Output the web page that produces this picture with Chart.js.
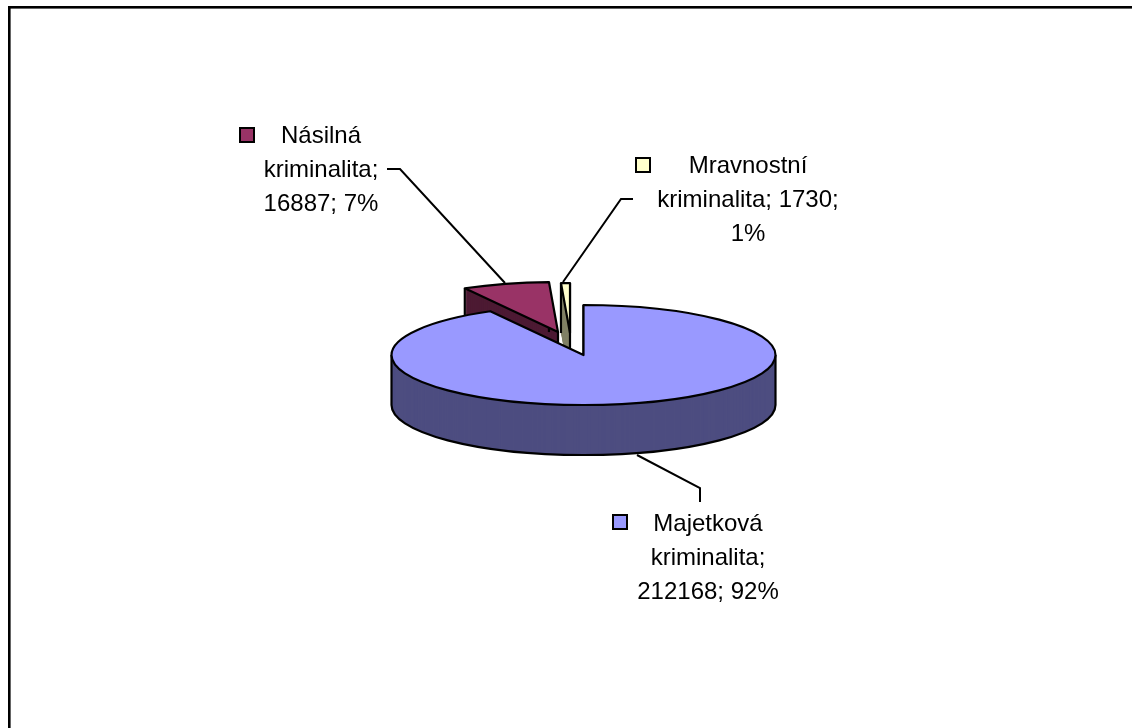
<!DOCTYPE html>
<html>
<head>
<meta charset="utf-8">
<script src="https://cdn.jsdelivr.net/npm/chart.js@4"></script>
<style>
  html, body { margin: 0; background: #fff; }
  canvas { display: block; }
</style>
</head>
<body>
<canvas id="chart" width="1132" height="728"></canvas>
<script>
const categories = ["Majetková kriminalita", "Násilná kriminalita", "Mravnostní kriminalita"];
const values = [212168, 16887, 1730];
const topColors = ["#9999FF", "#993366", "#FFFFCC"];
const wallColors = ["#4D4D80", "#4D1A33", "#808066"];

// 3D look of the old pie: flattening, wall height, how far slices are pulled out
const squash = 50 / 192;
const depth = 50;
const shifts = [[0, 0], [-25.5, -23], [-13.5, -22]];
const drawOrder = [1, 2, 0];

// where the labels sit: centre x, first baseline, wrap width, legend key, leader line
const labelBoxes = [
  { x: 708, y: 531, wrap: 150, key: [613, 515], leader: [[637, 455], [700, 488], [700, 502]] },
  { x: 321, y: 143, wrap: 122, key: [240, 128], leader: [[387, 169], [400, 169], [505, 283]] },
  { x: 748, y: 173, wrap: 182, key: [636, 158], leader: [[633, 199], [621, 199], [563, 282]] }
];

function slicePath(ctx, arc, dx, dy) {
  const r = arc.outerRadius;
  ctx.beginPath();
  ctx.moveTo(arc.x + dx, arc.y + dy);
  ctx.ellipse(arc.x + dx, arc.y + dy, r, r * squash, 0, arc.startAngle, arc.endAngle);
  ctx.closePath();
}

function rimPoint(arc, angle, dx, dy) {
  return [arc.x + dx + Math.cos(angle) * arc.outerRadius,
          arc.y + dy + Math.sin(angle) * arc.outerRadius * squash];
}

function drawSlice(ctx, arc, i) {
  const dx = shifts[i][0], dy = shifts[i][1];

  // wall: stack the slice shape downwards
  ctx.fillStyle = wallColors[i];
  for (let k = depth; k >= 1; k--) {
    slicePath(ctx, arc, dx, dy + k);
    ctx.fill();
  }

  // bottom rim, only the front half of the ellipse can be seen
  const from = Math.max(arc.startAngle, 0), to = Math.min(arc.endAngle, Math.PI);
  if (from < to) {
    ctx.beginPath();
    ctx.ellipse(arc.x + dx, arc.y + dy + depth, arc.outerRadius, arc.outerRadius * squash, 0, from, to);
    ctx.stroke();
  }

  // vertical edges at the apex, slice ends and the ellipse extremes
  const uprights = [[arc.x + dx, arc.y + dy], rimPoint(arc, arc.startAngle, dx, dy), rimPoint(arc, arc.endAngle, dx, dy)];
  [0, Math.PI].forEach(a => {
    if (a >= arc.startAngle && a <= arc.endAngle) uprights.push(rimPoint(arc, a, dx, dy));
  });
  uprights.forEach(p => {
    ctx.beginPath();
    ctx.moveTo(p[0], p[1]);
    ctx.lineTo(p[0], p[1] + depth);
    ctx.stroke();
  });

  ctx.fillStyle = topColors[i];
  slicePath(ctx, arc, dx, dy);
  ctx.fill();
  ctx.stroke();
}

function wrapText(ctx, text, width) {
  const lines = [];
  let line = "";
  text.split(" ").forEach(word => {
    const next = line ? line + " " + word : word;
    if (line && ctx.measureText(next).width > width) {
      lines.push(line);
      line = word;
    } else {
      line = next;
    }
  });
  lines.push(line);
  return lines;
}

const pie3d = {
  id: "pie3d",
  beforeDatasetsDraw(chart) {
    const ctx = chart.ctx;
    const arcs = chart.getDatasetMeta(0).data;
    ctx.save();
    ctx.strokeStyle = "#000";
    ctx.lineWidth = 2.2;
    ctx.lineJoin = "round";
    drawOrder.forEach(i => drawSlice(ctx, arcs[i], i));
    ctx.restore();
    return false;
  },
  afterDraw(chart) {
    const ctx = chart.ctx;
    const total = values.reduce((a, b) => a + b, 0);
    ctx.save();

    // only the top and left edge of the frame are in the picture
    ctx.fillStyle = "#000";
    ctx.fillRect(8, 6, 1124, 2.6);
    ctx.fillRect(8, 6, 2.6, 722);

    ctx.font = "24px 'Liberation Sans', Arial, sans-serif";
    ctx.textAlign = "center";
    ctx.textBaseline = "alphabetic";
    categories.forEach((name, i) => {
      const box = labelBoxes[i];
      const text = name + "; " + values[i] + "; " + Math.round(values[i] / total * 100) + "%";
      ctx.fillStyle = "#000";
      wrapText(ctx, text, box.wrap).forEach((line, n) => {
        ctx.fillText(line, box.x, box.y + n * 34.2);
      });

      ctx.fillStyle = topColors[i];
      ctx.strokeStyle = "#000";
      ctx.lineWidth = 2;
      ctx.fillRect(box.key[0], box.key[1], 14, 14);
      ctx.strokeRect(box.key[0], box.key[1], 14, 14);

      ctx.beginPath();
      box.leader.forEach((p, n) => n ? ctx.lineTo(p[0], p[1]) : ctx.moveTo(p[0], p[1]));
      ctx.stroke();
    });
    ctx.restore();
  }
};

new Chart(document.querySelector("#chart").getContext("2d"), {
  type: "pie",
  data: {
    labels: categories,
    datasets: [{
      data: values,
      backgroundColor: topColors,
      borderWidth: 0
    }]
  },
  options: {
    responsive: false,
    animation: false,
    radius: 192,
    layout: { padding: { left: 392, right: 357, top: 163, bottom: 181 } },
    plugins: { legend: { display: false }, tooltip: { enabled: false } }
  },
  plugins: [pie3d]
});
</script>
</body>
</html>
